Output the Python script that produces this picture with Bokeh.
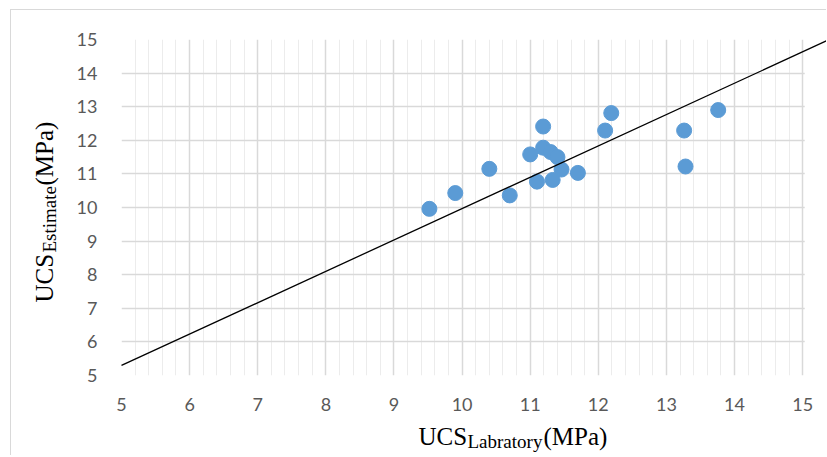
import numpy as np
from bokeh.plotting import figure
from bokeh.core.properties import value
from bokeh.models import FixedTicker, BoxAnnotation, Range1d, ColumnDataSource
from bokeh.embed import file_html
from bokeh.resources import INLINE

# ---- data ----
ucs_lab = [9.52, 9.90, 10.40, 10.70, 11.00, 11.19, 11.10, 11.19, 11.30,
           11.40, 11.46, 11.33, 11.70, 12.10, 12.19, 13.26, 13.28, 13.76]
ucs_est = [9.96, 10.43, 11.15, 10.36, 11.58, 12.41, 10.77, 11.78, 11.65,
           11.50, 11.13, 10.82, 11.03, 12.29, 12.81, 12.29, 11.22, 12.90]
line_x = [5.0, 15.35]
line_y = [5.30, 14.96]
x_ticks = [5, 6, 7, 8, 9, 10, 11, 12, 13, 14, 15]
y_ticks = [5, 6, 7, 8, 9, 10, 11, 12, 13, 14, 15]
x_minor = [round(5 + 0.2 * i, 1) for i in range(51) if i % 5 != 0]

# ---- layout geometry (page pixels; bokeh page has no body margin) ----
FRAME_L, FRAME_T, FRAME_W, FRAME_H = 121, 39, 705, 336
X0, X1, Y0, Y1 = 5, 15.35, 5, 15

def px2x(px):
    return X0 + (px - FRAME_L) * (X1 - X0) / FRAME_W

def py2y(py):
    return Y0 + (FRAME_T + FRAME_H - py) * (Y1 - Y0) / FRAME_H

p = figure(width=FRAME_L + FRAME_W, height=FRAME_T + FRAME_H + 80,
           x_range=Range1d(X0, X1), y_range=Range1d(Y0, Y1),
           output_backend="svg", toolbar_location=None,
           min_border_left=FRAME_L, min_border_right=0,
           min_border_top=FRAME_T, min_border_bottom=80)
p.outline_line_color = None
p.background_fill_color = "white"
p.border_fill_color = None
p.styles = {"box-shadow": "inset 10px 9px 0 0 #ffffff, inset 11px 10px 0 0 #d9d9d9"}

xt = FixedTicker(ticks=x_ticks, minor_ticks=x_minor)
yt = FixedTicker(ticks=y_ticks, minor_ticks=[])
p.xaxis.ticker = xt
p.yaxis.ticker = yt
p.xgrid.ticker = xt
p.ygrid.ticker = yt

for ax in (p.xaxis[0], p.yaxis[0]):
    ax.axis_line_color = None
    ax.major_tick_line_color = None
    ax.minor_tick_line_color = None
    ax.major_tick_out = 0
    ax.minor_tick_out = 0
    ax.major_label_text_font = "Lato"
    ax.major_label_text_font_size = "18px"
    ax.major_label_text_color = "#595959"
p.xaxis.major_label_standoff = 22
p.yaxis.major_label_standoff = 24

p.xgrid.grid_line_color = "#d9d9d9"
p.xgrid.grid_line_width = 1.5
p.xgrid.minor_grid_line_color = "#ececec"
p.xgrid.minor_grid_line_width = 1
p.ygrid.grid_line_color = "#d9d9d9"
p.ygrid.grid_line_width = 1.5

# hide grid beyond x = 15 (trend line continues there)
p.add_layout(BoxAnnotation(left=15.03, fill_color="white", fill_alpha=1.0,
                           line_color=None))

src = ColumnDataSource(dict(x=ucs_lab, y=ucs_est))
p.scatter("x", "y", source=src, size=15, fill_color="#5B9BD5",
          line_color="#5B9BD5")
p.line(line_x, line_y, line_color="black", line_width=1.3, level="overlay")

# ---- axis titles with subscripts (text glyphs, annotation level: not clipped) ----
MAIN, SUB = "25px", "19px"

p.text(x=[px2x(418), px2x(467), px2x(543)],
       y=[py2y(436), py2y(441), py2y(436)],
       text=["UCS", "Labratory", "(MPa)"],
       text_font=value("Liberation Serif"),
       text_font_size=[MAIN, SUB, MAIN],
       text_color="black", text_align="left", text_baseline="alphabetic",
       level="annotation")

p.text(x=[px2x(44), px2x(49), px2x(44)],
       y=[py2y(302), py2y(252), py2y(185)],
       text=["UCS", "Estimate", "(MPa)"],
       text_font=value("Liberation Serif"),
       text_font_size=[MAIN, SUB, MAIN],
       text_color="black", text_align="left", text_baseline="alphabetic",
       angle=np.pi / 2, level="annotation")

open("out.html", "w").write(file_html(p, INLINE))
